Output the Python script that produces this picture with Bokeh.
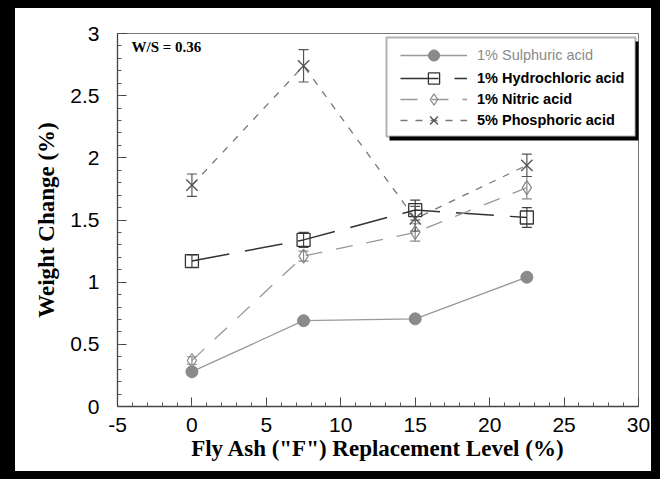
from bokeh.plotting import figure
from bokeh.models import (Range1d, FixedTicker, ColumnDataSource, Whisker, TeeHead,
                          Legend, LegendItem, Label, BoxAnnotation)
from bokeh.embed import file_html
from bokeh.resources import INLINE

# ---- data ----
fly_ash = [0, 7.5, 15, 22.5]
sulphuric = [0.28, 0.69, 0.705, 1.04]
hydrochloric = [1.17, 1.34, 1.58, 1.52]
hydrochloric_err = [0.05, 0.06, 0.08, 0.08]
nitric = [0.37, 1.21, 1.40, 1.76]
nitric_err = [0.03, 0.04, 0.07, 0.09]
phosphoric = [1.78, 2.74, 1.51, 1.94]
phosphoric_err = [0.09, 0.13, 0.10, 0.09]

x_ticks = [-5, 0, 5, 10, 15, 20, 25, 30]
x_minor = list(range(-5, 31))
y_ticks = [0, 0.5, 1, 1.5, 2, 2.5, 3]
y_minor = [i / 10 for i in range(0, 31)]

labels = ["1% Sulphuric acid", "1% Hydrochloric acid", "1% Nitric acid", "5% Phosphoric acid"]

SANS = "Liberation Sans"
SERIF = "Liberation Serif"

# outer black frame of the picture, as CSS borders around the figure
# (the canvas starts inside the left/top border; its far right/bottom part is hidden)
BL, BR, BT, BB = 15, 9, 8, 8
W, H = 660, 479

p = figure(width=W, height=H, x_range=Range1d(-5, 30), y_range=Range1d(0, 3),
           output_backend="svg", toolbar_location=None,
           min_border_left=117 - BL, min_border_right=W - (638 - BL), min_border_top=33 - BT,
           min_border_bottom=H - (406 - BT))
p.styles = {"border-style": "solid", "border-color": "black",
            "border-width": f"{BT}px {BR}px {BB}px {BL}px"}
p.border_fill_color = "white"
p.background_fill_color = "white"
p.outline_line_color = "#777777"
p.outline_line_width = 1
p.grid.visible = False

for ax, ticks, minor in ((p.xaxis[0], x_ticks, x_minor), (p.yaxis[0], y_ticks, y_minor)):
    ax.ticker = FixedTicker(ticks=ticks, minor_ticks=minor)
    ax.major_tick_in = 9
    ax.major_tick_out = 0
    ax.minor_tick_in = 4
    ax.minor_tick_out = 0
    ax.axis_line_color = "#444444"
    ax.axis_line_width = 1.3
    ax.major_tick_line_color = "#444444"
    ax.minor_tick_line_color = "#555555"
    ax.major_label_text_font = SANS
    ax.major_label_text_font_size = "21px"
    ax.major_label_text_color = "black"
    ax.axis_label_text_font = SERIF
    ax.axis_label_text_font_style = "bold"
    ax.axis_label_text_font_size = "23px"
    ax.axis_label_text_color = "black"

p.xaxis[0].axis_label = 'Fly Ash ("F") Replacement Level (%)'
p.xaxis[0].major_label_overrides = {-5: "-5"}
p.xaxis[0].major_label_standoff = 11
p.xaxis[0].axis_label_standoff = 1
p.yaxis[0].axis_label = "Weight Change (%)"
p.yaxis[0].major_label_standoff = 18
p.yaxis[0].axis_label_standoff = 8

def src(y, err=None):
    d = dict(x=fly_ash, y=y)
    if err is not None:
        d["upper"] = [a + b for a, b in zip(y, err)]
        d["lower"] = [a - b for a, b in zip(y, err)]
    return ColumnDataSource(d)

s_sul = src(sulphuric)
s_hcl = src(hydrochloric, hydrochloric_err)
s_nit = src(nitric, nitric_err)
s_pho = src(phosphoric, phosphoric_err)

# lines
l_sul = p.line("x", "y", source=s_sul, line_color="#999999", line_width=1.3)
l_hcl = p.line("x", "y", source=s_hcl, line_color="#333333", line_width=1.5, line_dash="38 16")
l_nit = p.line("x", "y", source=s_nit, line_color="#999999", line_width=1.3, line_dash="17 14")
l_pho = p.line("x", "y", source=s_pho, line_color="#777777", line_width=1.3, line_dash="7 8")

# error bars
for s, c in ((s_hcl, "#444444"), (s_nit, "#888888"), (s_pho, "#555555")):
    p.add_layout(Whisker(base="x", upper="upper", lower="lower", source=s, dimension="height",
                         line_color=c, line_width=1.2,
                         upper_head=TeeHead(size=10, line_color=c, line_width=1.2),
                         lower_head=TeeHead(size=10, line_color=c, line_width=1.2)))

# markers
m_sul = p.scatter("x", "y", source=s_sul, marker="circle", size=12,
                  fill_color="#8a8a8a", line_color="#8a8a8a")
m_hcl = p.scatter("x", "y", source=s_hcl, marker="square", size=13,
                  fill_alpha=0, line_color="#333333", line_width=1.3)
m_nit = p.scatter("x", "y", source=s_nit, marker="diamond", size=14,
                  fill_alpha=0, line_color="#888888", line_width=1.2)
m_pho = p.scatter("x", "y", source=s_pho, marker="x", size=16,
                  line_color="#555555", line_width=1.4)

# legend box with drop shadow; "canvas" units here are counted from the outer edge
# of the bordered element, so the border offset is taken off twice
OX, OY = 2 * BL, 2 * BT
shadow = BoxAnnotation(left=389 - OX, right=640 - OX, top=41 - OY, bottom=140 - OY,
                       left_units="canvas", right_units="canvas", top_units="canvas", bottom_units="canvas",
                       fill_color="black", fill_alpha=1, line_alpha=0, level="annotation")
box = BoxAnnotation(left=386 - OX, right=635 - OX, top=37 - OY, bottom=136 - OY,
                    left_units="canvas", right_units="canvas", top_units="canvas", bottom_units="canvas",
                    fill_color="white", fill_alpha=1, line_color="black", line_width=2, level="annotation")
p.add_layout(shadow)
p.add_layout(box)

ROW = 28

def mk_legend(label, renderers, loc_y, color, style):
    return Legend(items=[LegendItem(label=label, renderers=renderers)], location=(283, loc_y),
                  orientation="vertical", padding=0, margin=0, spacing=0,
                  glyph_width=67, glyph_height=ROW, label_height=ROW, label_standoff=10,
                  label_text_font=SANS, label_text_font_size="14.5px",
                  label_text_color=color, label_text_font_style=style,
                  border_line_alpha=0, background_fill_alpha=0)

# one legend per row (row centres at page y 55, 78, 99, 120; frame bottom at page y 406)
rows = [(labels[0], [l_sul, m_sul], 55, "#8a8a8a", "normal"),
        (labels[1], [l_hcl, m_hcl], 78, "black", "bold"),
        (labels[2], [l_nit, m_nit], 99, "black", "bold"),
        (labels[3], [l_pho, m_pho], 120, "black", "bold")]
for lab, rends, cy, col, sty in rows:
    p.add_layout(mk_legend(lab, rends, 406 - (cy + ROW // 2), col, sty))

p.add_layout(Label(x=-4.06, y=2.888, text="W/S = 0.36", text_font=SERIF, text_font_style="bold",
                   text_font_size="15px", text_color="black", text_baseline="middle"))

open("out.html", "w").write(file_html(p, INLINE))
